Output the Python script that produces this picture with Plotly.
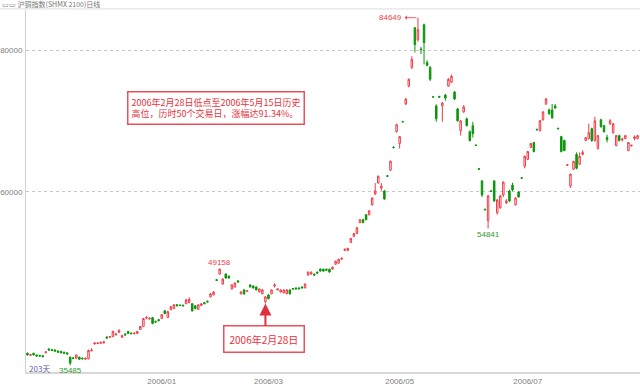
import numpy as np
import plotly.graph_objects as go

# ---- data (daily OHLC, 沪铜指数) ----
open_ = [37200, 36900, 37200, 36950, 36900, 36850, 37250, 37800, 37700, 37650,
         37500, 37450, 37350, 37250, 36650, 36550, 36500, 36650, 36500, 36350,
         36400, 37550, 38500, 38550, 38600, 38650, 39500, 39450, 39550, 39800,
         40150, 39450, 39900, 40280, 40050, 39950, 40000, 40560, 40980, 42150,
         42050, 42240, 41700, 41950, 42100, 43200, 42240, 43350, 43500, 44050,
         44000, 44000, 44200, 44350, 44200, 43900, 43400, 43950, 44350, 44550,
         45150, 45450, 47600, 48400, 46990, 48390, 48100, 46300, 46570, 47410,
         45600, 46150, 45950, 46850, 46700, 46570, 45870, 45600, 44480, 45450,
         45600, 46710, 46150, 45870, 45730, 45600, 46150, 46350, 46430, 46430,
         46570, 46430, 48250, 48390, 48390, 48670, 49090, 49090, 49090, 49090,
         49090, 49790, 49930, 50490, 51750, 51750, 52870, 53710, 54130, 55660,
         56080, 56780, 56780, 58180, 59720, 61260, 60560, 60140, 62280, 63080,
         66340, 68530, 66850, 69950, 72450, 74970, 77620, 83220, 81540, 80200,
         83640, 78320, 77620, 73450, 72170, 73500, 72170, 73700, 74970, 75500,
         74130, 71750, 68670, 71330, 70350, 68530, 69370, 66650, 63300, 61540,
         57550, 55940, 60140, 61540, 57060, 57760, 59580, 58460, 60140, 60980,
         58180, 60000, 62000, 63640, 64620, 66290, 66990, 68850, 68670, 70210,
         72450, 71610, 71610, 72170, 68990, 67830, 67270, 63770, 60840, 63220,
         65320, 63920, 65320, 67270, 67550, 68950, 67270, 66150, 70210, 69370,
         67690, 69650, 68390, 66570, 67970, 67350, 67550, 65870, 66500, 67550,
         67550]
high = [37300, 37100, 37250, 37000, 36950, 36900, 37450, 37900, 37800, 37750,
        37600, 37550, 37400, 37300, 36700, 36650, 37000, 36700, 36600, 36550,
        37700, 37900, 38700, 38700, 38800, 38950, 39600, 39600, 40400, 40100,
        40600, 39800, 40050, 40350, 40100, 40100, 40350, 41050, 42200, 42450,
        42250, 42300, 41800, 42050, 42700, 43300, 43200, 43850, 44150, 44150,
        44100, 44050, 44900, 45100, 44300, 44000, 44100, 44250, 44400, 44650,
        45700, 46000, 47650, 49158, 47800, 48500, 48200, 46950, 47200, 47550,
        45950, 46300, 46100, 46950, 46800, 46650, 46350, 46300, 45300, 45550,
        46200, 47100, 46350, 46200, 46200, 46250, 46250, 46400, 46500, 46500,
        46650, 47050, 48750, 48750, 48450, 48750, 49200, 49150, 49150, 49150,
        49450, 50300, 50550, 50700, 52000, 52100, 53500, 54200, 55000, 56150,
        56200, 56900, 57400, 59200, 61260, 62300, 61250, 60300, 62400, 64450,
        66450, 69650, 67850, 70050, 73250, 76050, 79200, 83350, 84649, 80500,
        83800, 78600, 77800, 73550, 72400, 73600, 72700, 73850, 76100, 76600,
        74300, 71900, 70200, 72300, 70500, 68700, 69930, 66700, 63400, 61700,
        57650, 59600, 60250, 61700, 59000, 59600, 61500, 59000, 60300, 61300,
        59250, 60100, 62100, 65150, 65800, 66950, 67100, 68950, 70200, 71400,
        73300, 71800, 72450, 72450, 69100, 67950, 67400, 63950, 62600, 64400,
        65600, 65600, 65900, 67750, 69650, 69100, 70630, 68050, 70350, 69500,
        68100, 70300, 69750, 68050, 68100, 67690, 68050, 67050, 66700, 68000,
        68050]
low = [36900, 36850, 36900, 36750, 36700, 36650, 37200, 37550, 37500, 37450,
       37300, 37200, 37100, 37000, 35485, 36400, 36400, 36300, 36350, 36300,
       36350, 37450, 38450, 38500, 38550, 38600, 39300, 39400, 39500, 39700,
       40100, 39400, 39650, 39950, 39900, 39900, 39950, 40500, 40900, 42000,
       41950, 41300, 41550, 41750, 42050, 42750, 42200, 43300, 43450, 43850,
       43900, 43850, 44150, 44300, 43100, 43450, 43350, 43900, 44150, 44400,
       45100, 45400, 47450, 48300, 46900, 47750, 47750, 46200, 46500, 47200,
       45500, 45450, 45900, 46500, 46350, 46100, 45800, 45550, 44240, 44850,
       45550, 46500, 46100, 45800, 45700, 45550, 45500, 46200, 46250, 46250,
       46400, 46400, 48200, 48300, 48200, 48450, 48750, 48750, 48900, 48600,
       49050, 49700, 49900, 50450, 51650, 51600, 52800, 53650, 54050, 55600,
       55600, 56000, 56700, 58100, 59580, 61200, 60200, 58900, 62100, 63000,
       66150, 68400, 66150, 69800, 72300, 74800, 77400, 79720, 81250, 79500,
       78040, 77800, 75700, 73350, 69930, 73350, 69930, 72900, 74900, 75400,
       73000, 69950, 67970, 71200, 69300, 67150, 67690, 66500, 63150, 59300,
       57400, 54841, 60000, 58600, 56800, 57650, 59300, 58300, 58600, 60100,
       58100, 59200, 61850, 63350, 64500, 66200, 65600, 68700, 68550, 70100,
       72300, 70950, 70350, 71750, 68850, 65600, 65750, 63700, 60560, 63100,
       63200, 63800, 65200, 67200, 67400, 67100, 67130, 66000, 69100, 68400,
       67000, 69500, 68250, 66450, 67150, 67130, 67450, 65750, 66450, 67300,
       67450]
close = [36950, 37000, 36950, 36800, 36800, 36700, 37400, 37650, 37600, 37500,
         37350, 37250, 37200, 37100, 35800, 36450, 36950, 36350, 36400, 36500,
         37600, 37650, 38650, 38650, 38750, 38800, 39350, 39550, 40280, 39900,
         40420, 39720, 39800, 40000, 39950, 40050, 40280, 40980, 42100, 42250,
         42150, 41400, 41600, 41800, 42650, 42800, 43080, 43780, 44050, 43900,
         43950, 43900, 44750, 44800, 43200, 43500, 44050, 44200, 44200, 44450,
         45600, 45850, 47500, 49090, 47690, 47830, 47830, 46850, 47130, 47270,
         45870, 45600, 46050, 46570, 46430, 46150, 46290, 46150, 45170, 44900,
         46150, 46850, 46290, 46150, 46150, 46150, 45600, 46290, 46290, 46300,
         46430, 46990, 48670, 48670, 48250, 48530, 48810, 48810, 48950, 48670,
         49370, 50210, 50490, 50630, 51890, 52030, 53430, 54130, 54970, 56080,
         55660, 56080, 57340, 59160, 60140, 62240, 60840, 59020, 62240, 64340,
         66290, 69510, 67830, 69930, 73150, 75940, 78740, 80840, 82940, 80150,
         81120, 77900, 75940, 73430, 70350, 73400, 72590, 73290, 75940, 76360,
         73150, 70070, 70070, 72030, 69370, 67270, 68250, 66570, 63220, 59580,
         57480, 59440, 60100, 58740, 58880, 59440, 61400, 58740, 58740, 60280,
         59160, 59300, 61950, 65030, 65730, 66850, 65730, 68800, 70070, 71330,
         73150, 71050, 70490, 71890, 68950, 65730, 65870, 63850, 62520, 64340,
         63360, 65040, 65600, 67690, 68390, 67270, 70070, 67970, 69230, 68530,
         67410, 70070, 69650, 67970, 67270, 67450, 67970, 66990, 66600, 67800,
         67970]

tick_idx = [44, 79, 122, 164]
tick_text = ["2006/01", "2006/03", "2006/05", "2006/07"]
y_ticks = [60000, 80000]
y_tick_text = ["60000", "80000"]
title_text = "▭▭ 沪铜指数(SHMX 2100)日线"
note_text = "2006年2月28日低点至2006年5月15日历史<br>高位，历时50个交易日，涨幅达91.34%。"
date_text = "2006年2月28日"
days_text = "203天"

RED = "#f03c46"
GREEN = "#0a960a"
FONT = "Noto Sans CJK SC"

x = list(range(len(open_)))
high_a = np.array(high)
low_a = np.array(low)
i_peak = int(np.argmax(high_a))
i_low1 = int(np.argmin(low_a))
i_hi1 = int(np.argmax(high_a[:70]))
i_low2 = 140 + int(np.argmin(low_a[140:]))
i_feb = 60 + int(np.argmin(low_a[60:100]))

fig = go.Figure()
fig.add_trace(go.Candlestick(
    x=x, open=open_, high=high, low=low, close=close,
    increasing=dict(line=dict(color=RED, width=1), fillcolor="#ffffff"),
    decreasing=dict(line=dict(color=GREEN, width=1), fillcolor=GREEN),
    whiskerwidth=0, hoverinfo="skip", showlegend=False))

ann = []
ann.append(dict(x=i_peak - 4.3, y=high[i_peak], xref="x", yref="y", text="",
                showarrow=True, ax=13, ay=0, arrowhead=1, arrowsize=0.9,
                arrowwidth=0.8, arrowcolor=RED, standoff=0))
ann.append(dict(x=i_peak - 4.3, y=high[i_peak], xref="x", yref="y", text=str(high[i_peak]),
                showarrow=False, xanchor="right", yanchor="middle", xshift=-1,
                font=dict(family="Liberation Sans", size=8, color=RED)))
ann.append(dict(x=i_hi1, y=high[i_hi1], xref="x", yref="y", text=str(high[i_hi1]),
                showarrow=False, yanchor="bottom",
                font=dict(family="Liberation Sans", size=8, color=RED)))
ann.append(dict(x=i_low2, y=low[i_low2], xref="x", yref="y", text=str(low[i_low2]),
                showarrow=False, yanchor="top",
                font=dict(family="Liberation Sans", size=8, color="#2e9a2e")))
ann.append(dict(x=i_low1, y=low[i_low1], xref="x", yref="y", text=str(low[i_low1]),
                showarrow=False, yanchor="top", yshift=1,
                font=dict(family="Liberation Sans", size=8, color="#2e9a2e")))
ann.append(dict(x=0.002, y=0.011, xref="paper", yref="paper", text=days_text,
                showarrow=False, xanchor="left", yanchor="middle",
                font=dict(family=FONT, size=8, color="#5a5aaa")))
ann.append(dict(x=-26 / 614, y=(376 - 4) / 366, xref="paper", yref="paper", text=title_text,
                showarrow=False, xanchor="left", yanchor="middle",
                font=dict(family=FONT, size=7, color="#777777")))
ann.append(dict(x=(127 - 26) / 614, y=(376 - 92) / 366, xref="paper", yref="paper",
                text=note_text, showarrow=False, xanchor="left", yanchor="top",
                align="left", bgcolor="#ffffff", bordercolor="#e8505a", borderwidth=1.5,
                borderpad=3, font=dict(family=FONT, size=9, color="#e8323c")))
ann.append(dict(x=(263.5 - 26) / 614, y=(376 - 342.5) / 366, xref="paper", yref="paper",
                text=date_text, showarrow=False, xanchor="center", yanchor="middle",
                bgcolor="#ffffff", bordercolor="#e8505a", borderwidth=1.5,
                borderpad=5, font=dict(family=FONT, size=10, color="#e8323c")))
ann.append(dict(x=i_feb, y=low[i_feb], xref="x", yref="y", text="",
                showarrow=True, ax=0, ay=24, arrowhead=2, arrowsize=1.2,
                arrowwidth=2, arrowcolor="#e03040", standoff=0))

fig.update_layout(
    width=640, height=386,
    margin=dict(l=26, r=0, t=10, b=10),
    paper_bgcolor="#ffffff", plot_bgcolor="#ffffff",
    font=dict(family="Liberation Sans", size=8, color="#808080"),
    annotations=ann,
    shapes=[dict(type="line", xref="paper", yref="paper", x0=-26 / 614, x1=1, y0=1.003, y1=1.003,
                 line=dict(color="#dddddd", width=1))],
    xaxis=dict(range=[-0.49, 200.8], rangeslider=dict(visible=False),
               tickmode="array", tickvals=tick_idx, ticktext=tick_text,
               showgrid=False, zeroline=False, showline=True, linecolor="#d8d8d8",
               linewidth=2, ticks="", tickfont=dict(size=8, color="#808080")),
    yaxis=dict(range=[34545, 85734], tickmode="array", tickvals=y_ticks, ticktext=y_tick_text,
               showgrid=True, gridcolor="#c8c8c8", griddash="dot", gridwidth=1,
               zeroline=False, showline=True, linecolor="#d0d0d0", linewidth=1,
               ticks="", ticklabelstandoff=1, tickfont=dict(size=8, color="#808080")),
)

fig.write_html("out.html", config={"displayModeBar": False},
               post_script="document.body.style.margin='0px';")
